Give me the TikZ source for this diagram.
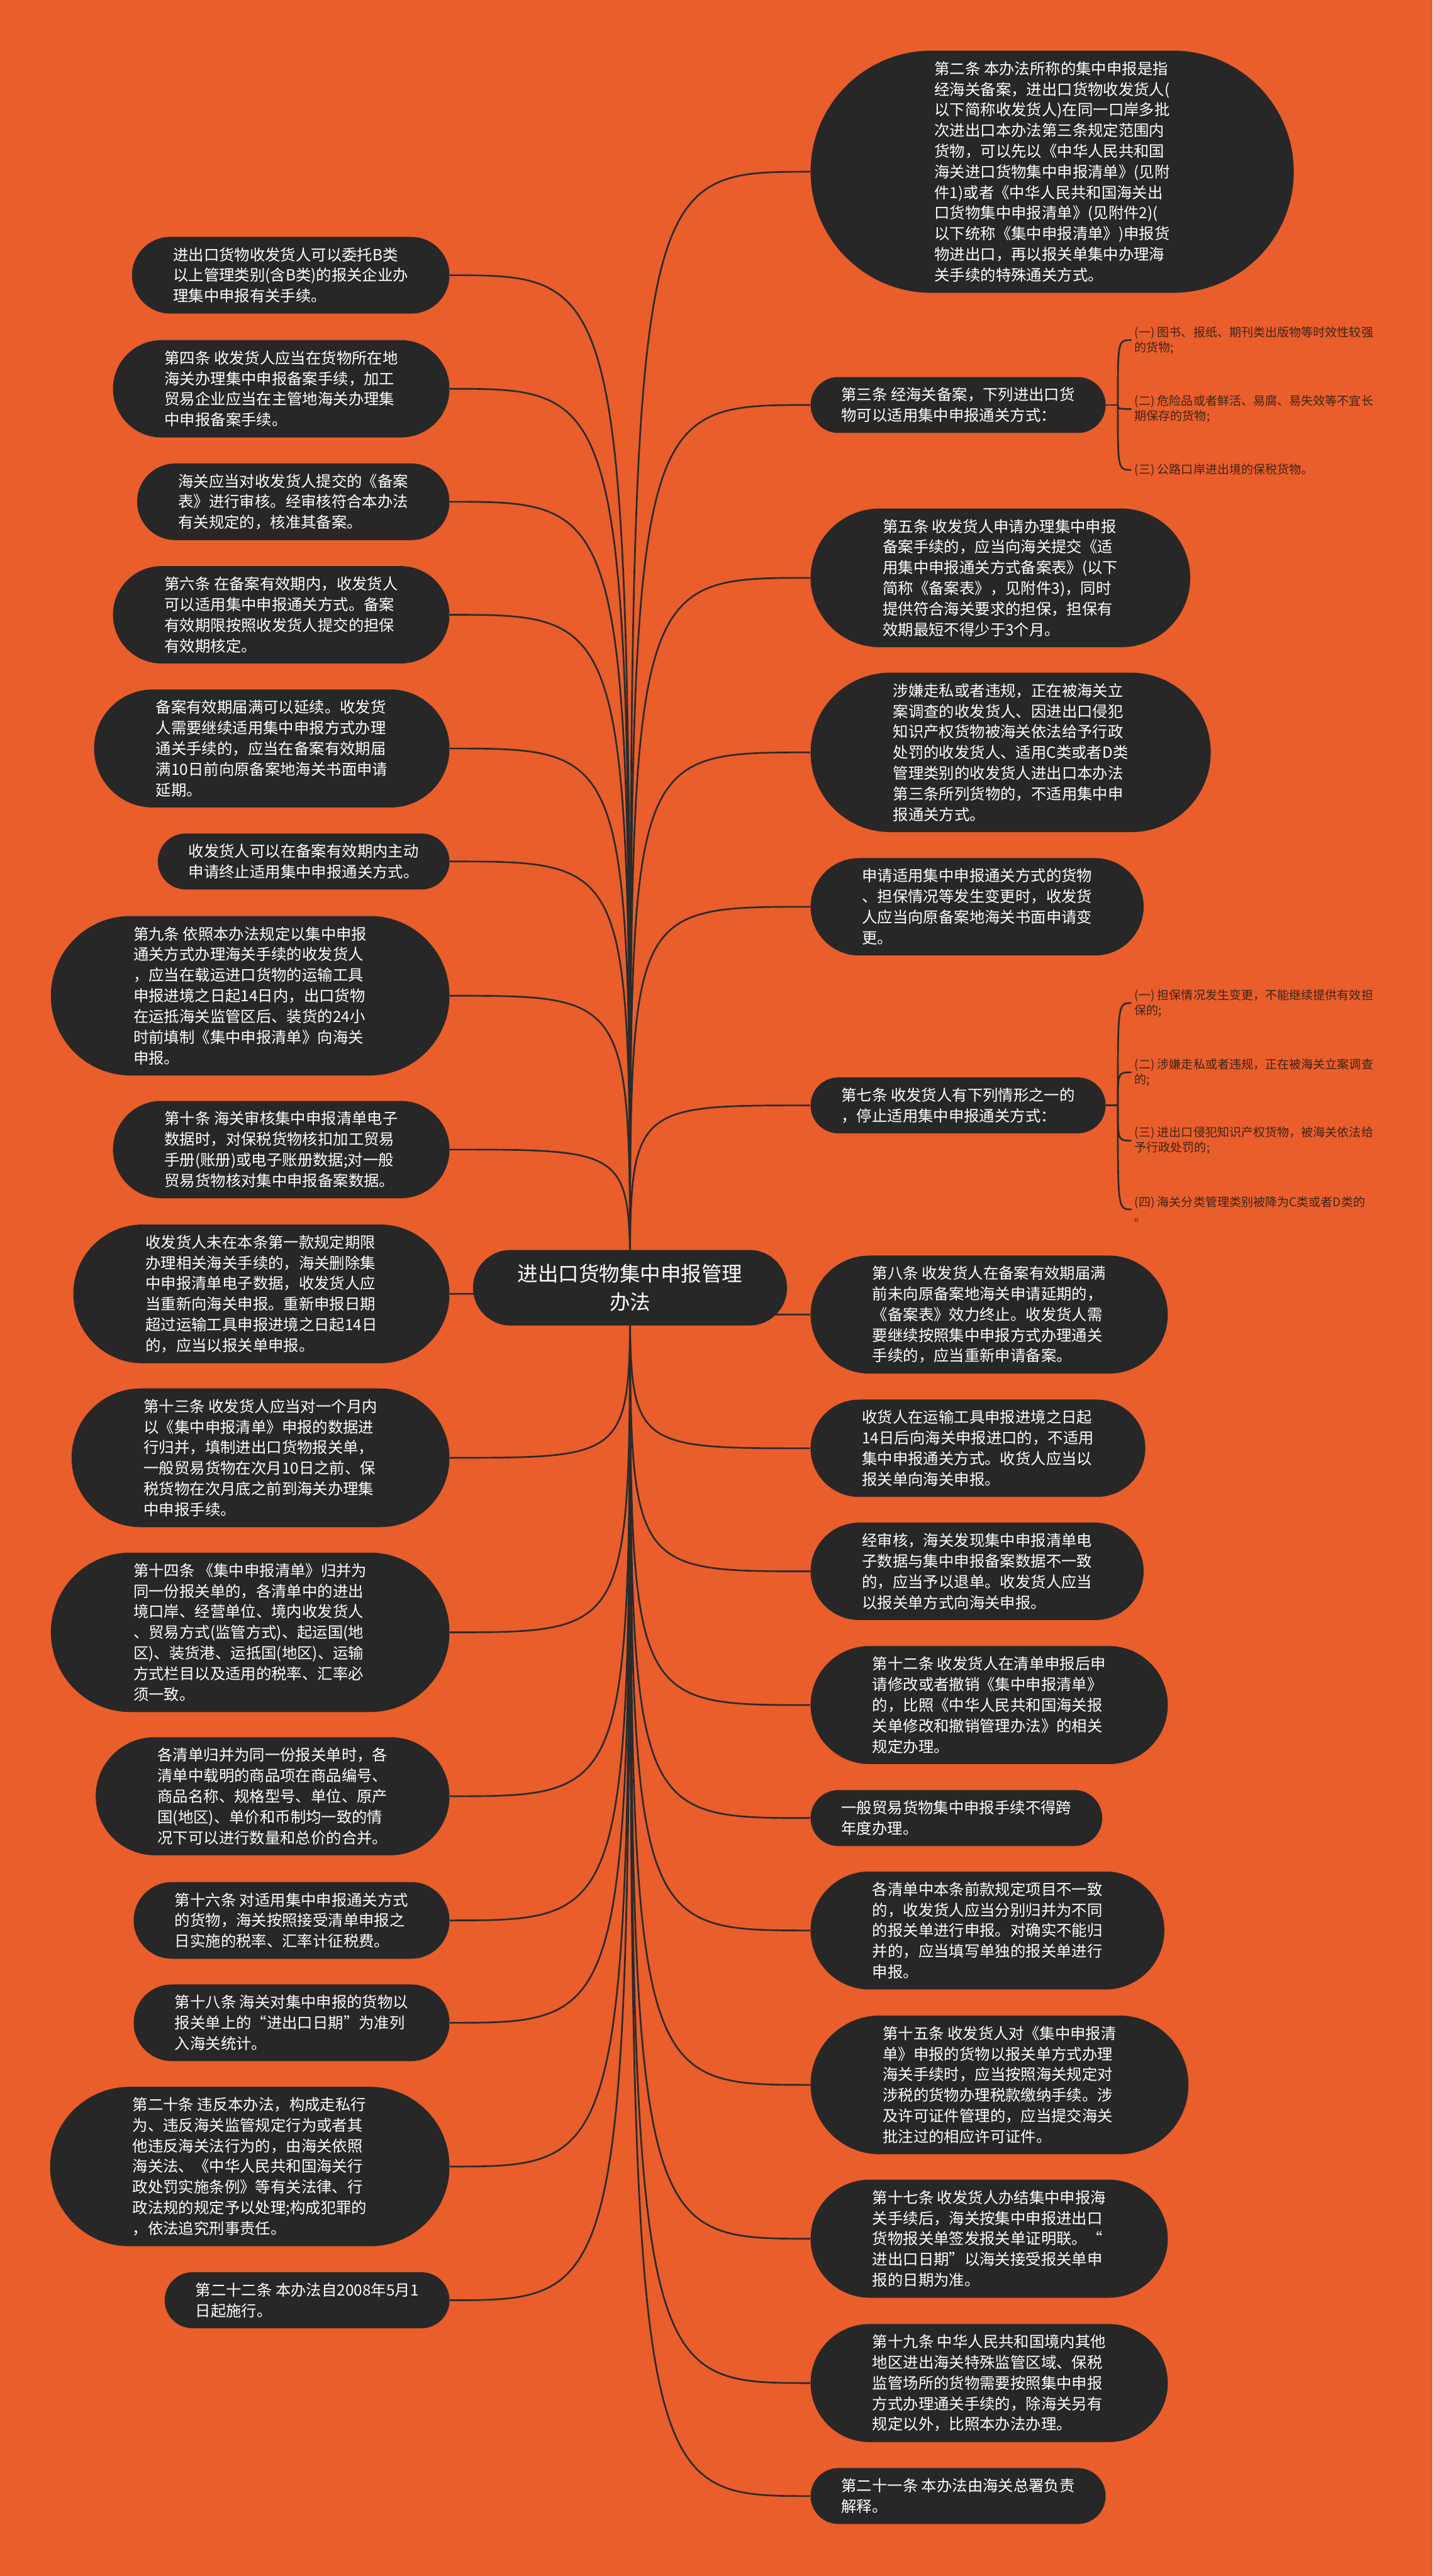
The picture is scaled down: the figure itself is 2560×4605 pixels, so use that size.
\documentclass[tikz,border=0pt]{standalone}
\usepackage{fontspec}
\setmainfont{Noto Sans CJK SC}
\usetikzlibrary{backgrounds}
\definecolor{MapOrange}{HTML}{E95E2B}
\definecolor{MapDark}{HTML}{272727}
\definecolor{MapLine}{HTML}{2A2A2A}
\definecolor{MapSub}{HTML}{3E2418}

\begin{document}
\begin{tikzpicture}[x=0.1mm,y=-0.1mm]
  \tikzset{
    maptopic/.style={
      rectangle,
      rounded corners=6.7mm,
      fill=MapDark,
      text=white,
      align=center,
      inner xsep=7.95mm,
      inner ysep=0pt,
      minimum height=13.5mm,
      font=\fontsize{10.4pt}{14.2pt}\selectfont
    },
    mapleaf/.style={
      rectangle,
      rounded corners={(1.85*#1+1.28)*1mm},
      fill=MapDark,
      text=white,
      align=left,
      inner xsep={(1.85*#1+1.8)*1mm},
      inner ysep=0pt,
      minimum height={(3.7*#1+2.6)*1mm},
      font=\fontsize{7.8pt}{10.5pt}\selectfont
    },
    leftleaf/.style={mapleaf=#1,anchor=east},
    rightleaf/.style={mapleaf=#1,anchor=west},
    mapitem/.style={
      align=left,
      anchor=west,
      inner sep=0.5mm,
      text=MapSub,
      font=\fontsize{6.1pt}{7.7pt}\selectfont
    },
    maplink/.style={draw=MapLine,line width=0.3mm}
  }
  \useasboundingbox (0,0) rectangle (2560,4605);

  % ------------------------------------------------------------------
  % Central topic
  % ------------------------------------------------------------------
  \node[maptopic] (root) at (1126,2302) {进出口货物集中申报管理\\办法};

  % ------------------------------------------------------------------
  % Left branch
  % ------------------------------------------------------------------
  \node[leftleaf=3] (l1) at (804,492)
    {进出口货物收发货人可以委托B类\\以上管理类别(含B类)的报关企业办\\理集中申报有关手续。};
  \node[leftleaf=4] (l2) at (804,695)
    {第四条 收发货人应当在货物所在地\\海关办理集中申报备案手续，加工\\贸易企业应当在主管地海关办理集\\中申报备案手续。};
  \node[leftleaf=3] (l3) at (804,897)
    {海关应当对收发货人提交的《备案\\表》进行审核。经审核符合本办法\\有关规定的，核准其备案。};
  \node[leftleaf=4] (l4) at (804,1099)
    {第六条 在备案有效期内，收发货人\\可以适用集中申报通关方式。备案\\有效期限按照收发货人提交的担保\\有效期核定。};
  \node[leftleaf=5] (l5) at (804,1338)
    {备案有效期届满可以延续。收发货\\人需要继续适用集中申报方式办理\\通关手续的，应当在备案有效期届\\满10日前向原备案地海关书面申请\\延期。};
  \node[leftleaf=2] (l6) at (804,1540)
    {收发货人可以在备案有效期内主动\\申请终止适用集中申报通关方式。};
  \node[leftleaf=7] (l7) at (804,1780)
    {第九条 依照本办法规定以集中申报\\通关方式办理海关手续的收发货人\\，应当在载运进口货物的运输工具\\申报进境之日起14日内，出口货物\\在运抵海关监管区后、装货的24小\\时前填制《集中申报清单》向海关\\申报。};
  \node[leftleaf=4] (l8) at (804,2055)
    {第十条 海关审核集中申报清单电子\\数据时，对保税货物核扣加工贸易\\手册(账册)或电子账册数据;对一般\\贸易货物核对集中申报备案数据。};
  \node[leftleaf=6] (l9) at (804,2313)
    {收发货人未在本条第一款规定期限\\办理相关海关手续的，海关删除集\\中申报清单电子数据，收发货人应\\当重新向海关申报。重新申报日期\\超过运输工具申报进境之日起14日\\的，应当以报关单申报。};
  \node[leftleaf=6] (l10) at (804,2606)
    {第十三条 收发货人应当对一个月内\\以《集中申报清单》申报的数据进\\行归并，填制进出口货物报关单，\\一般贸易货物在次月10日之前、保\\税货物在次月底之前到海关办理集\\中申报手续。};
  \node[leftleaf=7] (l11) at (804,2918)
    {第十四条 《集中申报清单》归并为\\同一份报关单的，各清单中的进出\\境口岸、经营单位、境内收发货人\\、贸易方式(监管方式)、起运国(地\\区)、装货港、运抵国(地区)、运输\\方式栏目以及适用的税率、汇率必\\须一致。};
  \node[leftleaf=5] (l12) at (804,3211)
    {各清单归并为同一份报关单时，各\\清单中载明的商品项在商品编号、\\商品名称、规格型号、单位、原产\\国(地区)、单价和币制均一致的情\\况下可以进行数量和总价的合并。};
  \node[leftleaf=3] (l13) at (804,3433)
    {第十六条 对适用集中申报通关方式\\的货物，海关按照接受清单申报之\\日实施的税率、汇率计征税费。};
  \node[leftleaf=3] (l14) at (804,3616)
    {第十八条 海关对集中申报的货物以\\报关单上的“进出口日期”为准列\\入海关统计。};
  \node[leftleaf=7] (l15) at (804,3873)
    {第二十条 违反本办法，构成走私行\\为、违反海关监管规定行为或者其\\他违反海关法行为的，由海关依照\\海关法、《中华人民共和国海关行\\政处罚实施条例》等有关法律、行\\政法规的规定予以处理;构成犯罪的\\，依法追究刑事责任。};
  \node[leftleaf=2] (l16) at (804,4112)
    {第二十二条 本办法自2008年5月1\\日起施行。};

  % ------------------------------------------------------------------
  % Right branch
  % ------------------------------------------------------------------
  \node[rightleaf=11] (r1) at (1448,307)
    {第二条 本办法所称的集中申报是指\\经海关备案，进出口货物收发货人(\\以下简称收发货人)在同一口岸多批\\次进出口本办法第三条规定范围内\\货物，可以先以《中华人民共和国\\海关进口货物集中申报清单》(见附\\件1)或者《中华人民共和国海关出\\口货物集中申报清单》(见附件2)(\\以下统称《集中申报清单》)申报货\\物进出口，再以报关单集中办理海\\关手续的特殊通关方式。};
  \node[rightleaf=2] (r2) at (1448,724)
    {第三条 经海关备案，下列进出口货\\物可以适用集中申报通关方式：};
  \node[rightleaf=6] (r3) at (1448,1033)
    {第五条 收发货人申请办理集中申报\\备案手续的，应当向海关提交《适\\用集中申报通关方式备案表》(以下\\简称《备案表》，见附件3)，同时\\提供符合海关要求的担保，担保有\\效期最短不得少于3个月。};
  \node[rightleaf=7] (r4) at (1448,1345)
    {涉嫌走私或者违规，正在被海关立\\案调查的收发货人、因进出口侵犯\\知识产权货物被海关依法给予行政\\处罚的收发货人、适用C类或者D类\\管理类别的收发货人进出口本办法\\第三条所列货物的，不适用集中申\\报通关方式。};
  \node[rightleaf=4] (r5) at (1448,1621)
    {申请适用集中申报通关方式的货物\\、担保情况等发生变更时，收发货\\人应当向原备案地海关书面申请变\\更。};
  \node[rightleaf=2] (r6) at (1448,1976)
    {第七条 收发货人有下列情形之一的\\，停止适用集中申报通关方式：};
  \node[rightleaf=5] (r7) at (1448,2350)
    {第八条 收发货人在备案有效期届满\\前未向原备案地海关申请延期的，\\《备案表》效力终止。收发货人需\\要继续按照集中申报方式办理通关\\手续的，应当重新申请备案。};
  \node[rightleaf=4] (r8) at (1448,2589)
    {收货人在运输工具申报进境之日起\\14日后向海关申报进口的，不适用\\集中申报通关方式。收货人应当以\\报关单向海关申报。};
  \node[rightleaf=4] (r9) at (1448,2809)
    {经审核，海关发现集中申报清单电\\子数据与集中申报备案数据不一致\\的，应当予以退单。收发货人应当\\以报关单方式向海关申报。};
  \node[rightleaf=5] (r10) at (1448,3048)
    {第十二条 收发货人在清单申报后申\\请修改或者撤销《集中申报清单》\\的，比照《中华人民共和国海关报\\关单修改和撤销管理办法》的相关\\规定办理。};
  \node[rightleaf=2] (r11) at (1448,3250)
    {一般贸易货物集中申报手续不得跨\\年度办理。};
  \node[rightleaf=5] (r12) at (1448,3451)
    {各清单中本条前款规定项目不一致\\的，收发货人应当分别归并为不同\\的报关单进行申报。对确实不能归\\并的，应当填写单独的报关单进行\\申报。};
  \node[rightleaf=6] (r13) at (1448,3727)
    {第十五条 收发货人对《集中申报清\\单》申报的货物以报关单方式办理\\海关手续时，应当按照海关规定对\\涉税的货物办理税款缴纳手续。涉\\及许可证件管理的，应当提交海关\\批注过的相应许可证件。};
  \node[rightleaf=5] (r14) at (1448,4002)
    {第十七条 收发货人办结集中申报海\\关手续后，海关按集中申报进出口\\货物报关单签发报关单证明联。“\\进出口日期”以海关接受报关单申\\报的日期为准。};
  \node[rightleaf=5] (r15) at (1448,4260)
    {第十九条 中华人民共和国境内其他\\地区进出海关特殊监管区域、保税\\监管场所的货物需要按照集中申报\\方式办理通关手续的，除海关另有\\规定以外，比照本办法办理。};
  \node[rightleaf=2] (r16) at (1448,4462)
    {第二十一条 本办法由海关总署负责\\解释。};

  % Items of the third and seventh articles
  \node[mapitem] (r2a) at (2022,608)
    {(一) 图书、报纸、期刊类出版物等时效性较强\\的货物;};
  \node[mapitem] (r2b) at (2022,731)
    {(二) 危险品或者鲜活、易腐、易失效等不宜长\\期保存的货物;};
  \node[mapitem] (r2c) at (2022,840)
    {(三) 公路口岸进出境的保税货物。};
  \node[mapitem] (r6a) at (2022,1793)
    {(一) 担保情况发生变更，不能继续提供有效担\\保的;};
  \node[mapitem] (r6b) at (2022,1917)
    {(二) 涉嫌走私或者违规，正在被海关立案调查\\的;};
  \node[mapitem] (r6c) at (2022,2039)
    {(三) 进出口侵犯知识产权货物，被海关依法给\\予行政处罚的;};
  \node[mapitem] (r6d) at (2022,2162)
    {(四) 海关分类管理类别被降为C类或者D类的\\。};

  \coordinate (r2fork) at ([xshift=2.1mm]r2.east);
  \coordinate (r6fork) at ([xshift=2.1mm]r6.east);

  % ------------------------------------------------------------------
  % Background and connectors
  % ------------------------------------------------------------------
  \begin{scope}[on background layer]
    \fill[MapOrange] (0,0) rectangle (2560,4605);
    \foreach \leaf in {l1,l2,l3,l4,l5,l6,l7,l8,l9,l10,l11,l12,l13,l14,l15,l16}
      \draw[maplink] (root.center) .. controls (root.center |- \leaf.east) .. (\leaf.east);
    \foreach \leaf in {r1,r2,r3,r4,r5,r6,r7,r8,r9,r10,r11,r12,r13,r14,r15,r16}
      \draw[maplink] (root.center) .. controls (root.center |- \leaf.west) .. (\leaf.west);
    \draw[maplink] (r2.east) -- (r2fork);
    \draw[maplink] (r6.east) -- (r6fork);
    \foreach \item in {r2a,r2b,r2c}
      \draw[maplink] (r2fork) .. controls (r2fork |- \item.west) .. (\item.west);
    \foreach \item in {r6a,r6b,r6c,r6d}
      \draw[maplink] (r6fork) .. controls (r6fork |- \item.west) .. (\item.west);
  \end{scope}
\end{tikzpicture}
\end{document}
